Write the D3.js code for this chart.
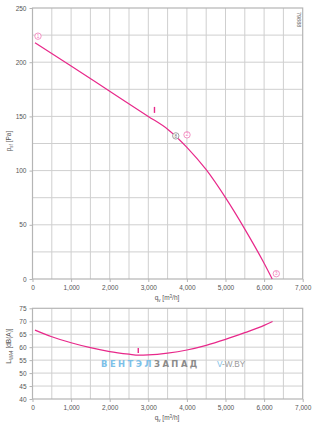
<!DOCTYPE html>
<html>
<head>
<meta charset="utf-8">
<script src="https://cdn.jsdelivr.net/npm/d3@7"></script>
<style>
  html, body { margin: 0; padding: 0; background: #fff; }
  svg { display: block; font-family: "Liberation Sans", Arial, sans-serif; }
</style>
</head>
<body>
<svg id="chart" width="324" height="426"></svg>
<script>
// Fan curve: static pressure vs. air flow
const flowPressure = [65, 1000, 2000, 3000, 3500, 4000, 4500, 5000, 5500, 6000, 6210];
const pressure     = [218, 196.4, 173.2, 150, 138.2, 121.5, 100.8, 75, 46, 14.5, 0];

// Sound power level vs. air flow
const flowSound = [65, 500, 1000, 1500, 2000, 2500, 2750, 3000, 3500, 4000, 4500, 5000, 5500, 6000, 6220];
const soundLevel = [66.6, 64.0, 61.7, 59.8, 58.3, 57.3, 56.9, 57.0, 57.7, 58.9, 60.7, 63.0, 65.6, 68.4, 69.9];

// Operating points marked on the pressure curve
const pointIds   = ["1", "8", "2", "3"];
const pointFlow  = [142, 3712, 4003, 6316];
const pointPress = [224, 132, 133, 4.9];

// Design point ticks
const designTop = { q: 3160, v: 156 };
const designBottom = { q: 2740, v: 58.7 };

const xTicks = [0, 1000, 2000, 3000, 4000, 5000, 6000, 7000];
const pTicks = [0, 50, 100, 150, 200, 250];
const lTicks = [40, 45, 50, 55, 60, 65, 70, 75];

const PINK = "#e8288a";
const GRID = "#cfcfcf";
const AXIS = "#b5b5b5";
const LABEL = "#555";

const svg = d3.select("#chart");
const fmt = d3.format(",");

const x = d3.scaleLinear().domain([0, 7000]).range([32.5, 302.7]);
const yP = d3.scaleLinear().domain([0, 250]).range([279, 8]);
const yL = d3.scaleLinear().domain([40, 75]).range([399, 308.3]);

function panel(y, yTicks, gridStep) {
  const g = svg.append("g");
  const [y0, y1] = y.domain();
  // vertical grid every 500 m³/h
  g.selectAll(".vg").data(d3.range(500, 7000, 500)).join("line")
    .attr("x1", d => x(d)).attr("x2", d => x(d))
    .attr("y1", y(y1)).attr("y2", y(y0))
    .attr("stroke", GRID).attr("stroke-width", 1);
  // horizontal grid
  g.selectAll(".hg").data(d3.range(y0 + gridStep, y1, gridStep)).join("line")
    .attr("x1", x(0)).attr("x2", x(7000))
    .attr("y1", d => y(d)).attr("y2", d => y(d))
    .attr("stroke", GRID).attr("stroke-width", 1);
  // frame
  g.append("rect")
    .attr("x", x(0)).attr("y", y(y1))
    .attr("width", x(7000) - x(0)).attr("height", y(y0) - y(y1))
    .attr("fill", "none").attr("stroke", AXIS).attr("stroke-width", 1.2);

  const xa = g.append("g").attr("transform", `translate(0,${y(y0)})`)
    .call(d3.axisBottom(x).tickValues(xTicks).tickFormat(fmt).tickSize(3).tickPadding(3));
  const ya = g.append("g").attr("transform", `translate(${x(0)},0)`)
    .call(d3.axisLeft(y).tickValues(yTicks).tickSize(3).tickPadding(3));
  [xa, ya].forEach(a => {
    a.select(".domain").remove();
    a.selectAll(".tick line").attr("stroke", AXIS);
    a.selectAll(".tick text").attr("fill", LABEL).attr("font-size", 6.5)
      .attr("font-family", "Liberation Sans, Arial, sans-serif");
  });
  return g;
}

panel(yP, pTicks, 25);
panel(yL, lTicks, 5);

// watermark text behind the lower curve
const wm = svg.append("text").attr("x", 101).attr("y", 367)
  .attr("font-size", 8.4).attr("font-weight", "bold").attr("letter-spacing", 2.5)
  .attr("font-family", "DejaVu Sans, sans-serif");
wm.append("tspan").attr("fill", "#7cc0e8").text("ВЕНТЭЛ");
wm.append("tspan").attr("fill", "#8a8a8a").text("ЗАПАД");
const wm2 = svg.append("text").attr("x", 217).attr("y", 367)
  .attr("font-size", 8.2).attr("font-family", "Liberation Sans, Arial, sans-serif");
wm2.append("tspan").attr("fill", "#7cc0e8").text("V");
wm2.append("tspan").attr("fill", "#9a9a9a").text("-W.BY");

// curves
const lineP = d3.line().x(d => x(d[0])).y(d => yP(d[1])).curve(d3.curveMonotoneX);
svg.append("path").datum(d3.zip(flowPressure, pressure))
  .attr("d", lineP).attr("fill", "none").attr("stroke", PINK).attr("stroke-width", 1.2);

const lineL = d3.line().x(d => x(d[0])).y(d => yL(d[1])).curve(d3.curveMonotoneX);
svg.append("path").datum(d3.zip(flowSound, soundLevel))
  .attr("d", lineL).attr("fill", "none").attr("stroke", PINK).attr("stroke-width", 1.2);

// design point ticks
svg.append("line")
  .attr("x1", x(designTop.q)).attr("x2", x(designTop.q))
  .attr("y1", yP(designTop.v) - 3).attr("y2", yP(designTop.v) + 3)
  .attr("stroke", PINK).attr("stroke-width", 1.4);
svg.append("line")
  .attr("x1", x(designBottom.q)).attr("x2", x(designBottom.q))
  .attr("y1", yL(designBottom.v) - 2.5).attr("y2", yL(designBottom.v) + 2.5)
  .attr("stroke", PINK).attr("stroke-width", 1.4);

// numbered operating points
const pts = svg.append("g").selectAll("g").data(d3.range(pointIds.length)).join("g")
  .attr("transform", i => `translate(${x(pointFlow[i])},${yP(pointPress[i])})`);
pts.append("circle").attr("r", 3.2).attr("fill", "#fff")
  .attr("stroke", i => pointIds[i] === "8" ? "#8a8a8a" : "#f07ab8").attr("stroke-width", 0.8);
pts.append("text").attr("text-anchor", "middle").attr("dy", "0.35em")
  .attr("font-size", 4.6).attr("fill", i => pointIds[i] === "8" ? "#777" : "#f07ab8")
  .text(i => pointIds[i]);

// axis titles
function xTitle(yPos) {
  const t = svg.append("text").attr("x", 167).attr("y", yPos).attr("text-anchor", "middle")
    .attr("font-size", 6.5).attr("fill", LABEL);
  t.append("tspan").text("q");
  t.append("tspan").attr("font-size", 4.5).attr("dy", 1.5).text("v");
  t.append("tspan").attr("dy", -1.5).text(" [m");
  t.append("tspan").attr("font-size", 4.5).attr("dy", -2.5).text("3");
  t.append("tspan").attr("dy", 2.5).text("/h]");
}
xTitle(300);
xTitle(420);

function yTitle(cy, main, sub, unit) {
  const t = svg.append("text").attr("transform", `translate(11,${cy}) rotate(-90)`)
    .attr("text-anchor", "middle").attr("font-size", 6.5).attr("fill", LABEL);
  t.append("tspan").text(main);
  t.append("tspan").attr("font-size", 4.5).attr("dy", 1.5).text(sub);
  t.append("tspan").attr("dy", -1.5).text(" " + unit);
}
yTitle(141, "p", "sf", "[Pa]");
yTitle(346, "L", "WA4", "[dB(A)]");

// drawing number
svg.append("text").attr("transform", "translate(296.5,12) rotate(90)")
  .attr("font-size", 5.5).attr("fill", "#666").text("79888");
</script>
</body>
</html>
